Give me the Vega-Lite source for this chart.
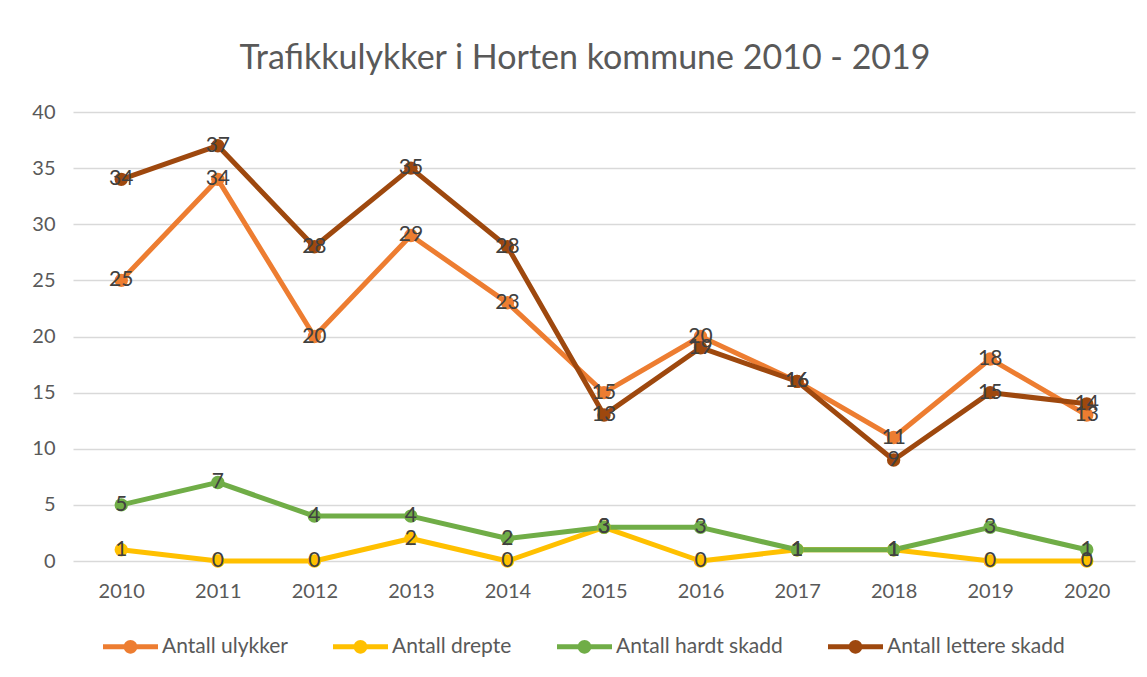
{
  "$schema": "https://vega.github.io/schema/vega-lite/v6.json",
  "width": 1062,
  "height": 449,
  "autosize": {"type": "none"},
  "padding": {"left": 73, "top": 112, "right": 12, "bottom": 116},
  "background": "white",
  "title": {
    "text": "Trafikkulykker i Horten kommune 2010 - 2019",
    "fontSize": 34,
    "font": "Lato",
    "fontWeight": "normal",
    "color": "#595959",
    "anchor": "middle",
    "dx": -19,
    "offset": -8,
    "baseline": "bottom"
  },
  "config": {
    "font": "Lato",
    "view": {"stroke": null}
  },
  "data": {
    "values": [
      {"year": "2010", "serie": "Antall ulykker", "verdi": 25},
      {"year": "2011", "serie": "Antall ulykker", "verdi": 34},
      {"year": "2012", "serie": "Antall ulykker", "verdi": 20},
      {"year": "2013", "serie": "Antall ulykker", "verdi": 29},
      {"year": "2014", "serie": "Antall ulykker", "verdi": 23},
      {"year": "2015", "serie": "Antall ulykker", "verdi": 15},
      {"year": "2016", "serie": "Antall ulykker", "verdi": 20},
      {"year": "2017", "serie": "Antall ulykker", "verdi": 16},
      {"year": "2018", "serie": "Antall ulykker", "verdi": 11},
      {"year": "2019", "serie": "Antall ulykker", "verdi": 18},
      {"year": "2020", "serie": "Antall ulykker", "verdi": 13},
      {"year": "2010", "serie": "Antall drepte", "verdi": 1},
      {"year": "2011", "serie": "Antall drepte", "verdi": 0},
      {"year": "2012", "serie": "Antall drepte", "verdi": 0},
      {"year": "2013", "serie": "Antall drepte", "verdi": 2},
      {"year": "2014", "serie": "Antall drepte", "verdi": 0},
      {"year": "2015", "serie": "Antall drepte", "verdi": 3},
      {"year": "2016", "serie": "Antall drepte", "verdi": 0},
      {"year": "2017", "serie": "Antall drepte", "verdi": 1},
      {"year": "2018", "serie": "Antall drepte", "verdi": 1},
      {"year": "2019", "serie": "Antall drepte", "verdi": 0},
      {"year": "2020", "serie": "Antall drepte", "verdi": 0},
      {"year": "2010", "serie": "Antall hardt skadd", "verdi": 5},
      {"year": "2011", "serie": "Antall hardt skadd", "verdi": 7},
      {"year": "2012", "serie": "Antall hardt skadd", "verdi": 4},
      {"year": "2013", "serie": "Antall hardt skadd", "verdi": 4},
      {"year": "2014", "serie": "Antall hardt skadd", "verdi": 2},
      {"year": "2015", "serie": "Antall hardt skadd", "verdi": 3},
      {"year": "2016", "serie": "Antall hardt skadd", "verdi": 3},
      {"year": "2017", "serie": "Antall hardt skadd", "verdi": 1},
      {"year": "2018", "serie": "Antall hardt skadd", "verdi": 1},
      {"year": "2019", "serie": "Antall hardt skadd", "verdi": 3},
      {"year": "2020", "serie": "Antall hardt skadd", "verdi": 1},
      {"year": "2010", "serie": "Antall lettere skadd", "verdi": 34},
      {"year": "2011", "serie": "Antall lettere skadd", "verdi": 37},
      {"year": "2012", "serie": "Antall lettere skadd", "verdi": 28},
      {"year": "2013", "serie": "Antall lettere skadd", "verdi": 35},
      {"year": "2014", "serie": "Antall lettere skadd", "verdi": 28},
      {"year": "2015", "serie": "Antall lettere skadd", "verdi": 13},
      {"year": "2016", "serie": "Antall lettere skadd", "verdi": 19},
      {"year": "2017", "serie": "Antall lettere skadd", "verdi": 16},
      {"year": "2018", "serie": "Antall lettere skadd", "verdi": 9},
      {"year": "2019", "serie": "Antall lettere skadd", "verdi": 15},
      {"year": "2020", "serie": "Antall lettere skadd", "verdi": 14}
    ]
  },
  "encoding": {
    "x": {
      "field": "year",
      "type": "ordinal",
      "scale": {"type": "point", "padding": 0.5},
      "axis": {
        "title": null,
        "labelAngle": 0,
        "labelFontSize": 20,
        "labelColor": "#595959",
        "labelPadding": 20,
        "domain": false,
        "ticks": false,
        "grid": false
      }
    },
    "y": {
      "field": "verdi",
      "type": "quantitative",
      "scale": {"domain": [0, 40], "nice": false},
      "axis": {
        "title": null,
        "values": [0, 5, 10, 15, 20, 25, 30, 35, 40],
        "labelFontSize": 20,
        "labelColor": "#595959",
        "labelPadding": 18,
        "domain": false,
        "ticks": false,
        "grid": true,
        "gridColor": "#d9d9d9",
        "gridWidth": 1.5
      }
    },
    "color": {
      "field": "serie",
      "type": "nominal",
      "scale": {
        "domain": ["Antall ulykker", "Antall drepte", "Antall hardt skadd", "Antall lettere skadd"],
        "range": ["#ED7D31", "#FFC000", "#70AD47", "#9E480E"]
      },
      "legend": {
        "title": null,
        "orient": "none",
        "legendX": 30,
        "legendY": 507,
        "direction": "horizontal",
        "labelFontSize": 21,
        "labelLimit": 400,
        "labelColor": "#595959",
        "symbolType": "M-1,-0.09 H1 V0.09 H-1 Z M-0.25,0 A0.25,0.25 0 1,1 0.25,0 A0.25,0.25 0 1,1 -0.25,0 Z",
        "symbolSize": 3025,
        "symbolStrokeWidth": 0,
        "labelOffset": 4,
        "columnPadding": 45,
        "encode": {
          "symbols": {"update": {"fill": {"scale": "color", "field": "value"}, "strokeWidth": {"value": 0}}}
        }
      }
    }
  },
  "layer": [
    {
      "mark": {"type": "line", "strokeWidth": 5, "strokeCap": "round", "strokeJoin": "round"},
      "encoding": {"detail": {"field": "serie"}}
    },
    {
      "mark": {"type": "circle", "size": 180, "opacity": 1}
    },
    {
      "mark": {"type": "text", "fontSize": 21, "color": "#404040", "align": "center", "baseline": "middle"},
      "encoding": {
        "text": {"field": "verdi", "type": "quantitative"},
        "color": {"value": "#404040"}
      }
    }
  ]
}
